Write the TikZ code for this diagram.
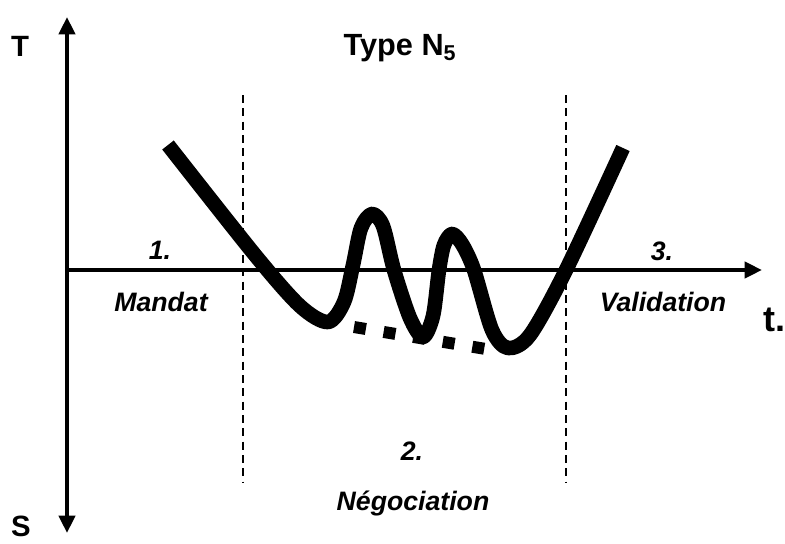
\documentclass[tikz,border=0pt]{standalone}
\usepackage{fontspec}
\setmainfont{Liberation Sans}
\usetikzlibrary{arrows.meta,positioning}

\begin{document}
\begin{tikzpicture}[
    x=0.75pt, y=-0.75pt,
    axis/.style={line width=3pt},
    phase/.style={font=\fontsize{20}{22}\selectfont\bfseries\itshape, inner sep=0pt},
    axislabel/.style={font=\fontsize{22}{24}\selectfont\bfseries, inner sep=0pt},
    border/.style={line width=1.3pt, dash pattern=on 6pt off 4pt},
    trajectory/.style={line width=11pt, line join=round, line cap=butt},
    gap/.style={line width=9pt, dash pattern=on 9pt off 13.5pt}
]
\useasboundingbox (0,0) rectangle (785,543);

\coordinate (origin) at (67,270);
\coordinate (ttop) at (67,17);
\coordinate (sbot) at (67,533);
\coordinate (tend) at (762,270);

\node[axislabel] (T) at (20,46) {T};
\node[axislabel] (S) at (21,526) {S};
\node[axislabel, font=\fontsize{27}{28}\selectfont\bfseries] (t) at (774,320) {t.};
\node[font=\fontsize{23}{25}\selectfont\bfseries, inner sep=0pt] (title) at (400,48) {Type N$_\mathbf{5}$};

\node[phase] (num1) at (160,250) {1.};
\node[phase] (mandat) at (161,302) {Mandat};
\node[phase] (num2) at (412,451) {2.};
\node[phase, anchor=base] (nego) at (413,510) {Négociation};
\node[phase] (num3) at (662,251) {3.};
\node[phase] (valid) at (663,302) {Validation};

% Axes
\draw[axis, {Triangle[length=13pt,width=12pt]}-{Triangle[length=13pt,width=12pt]}] (sbot) -- (ttop);
\draw[axis, -{Triangle[length=13pt,width=12pt]}] (origin) -- (tend);

% Phase borders
\draw[border] (243,95) -- (243,482);
\draw[border] (566,95) -- (566,482);

% Tension curve
\draw[gap] (354,327) -- (492,350);
\draw[trajectory] plot[smooth, tension=0.5] coordinates {
    (168,145) (255,255) (300,306) (328,322) (344,302) (353,265) (361,228)
    (372,214) (383,226) (394,270) (410,318) (423,337) (433,316) (439,270)
    (444,245) (452,234) (462,244) (474,270) (492,330) (508,348) (530,335)
    (566,270) (623,148)};

\end{tikzpicture}
\end{document}
